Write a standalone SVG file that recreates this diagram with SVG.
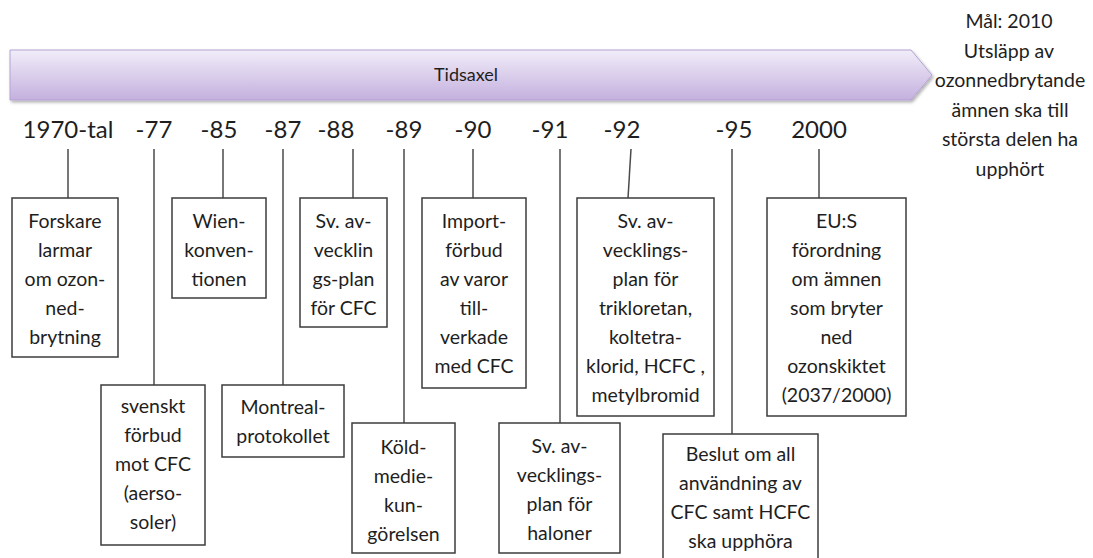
<svg xmlns="http://www.w3.org/2000/svg" width="1093" height="558" viewBox="0 0 1093 558">
<defs>
<linearGradient id="bar" x1="0" y1="0" x2="0" y2="1">
<stop offset="0" stop-color="#f1edf9"/>
<stop offset="1" stop-color="#c4b0de"/>
</linearGradient>
<filter id="sh" x="-5%" y="-30%" width="110%" height="170%">
<feDropShadow dx="1.5" dy="2" stdDeviation="1.5" flood-color="#000" flood-opacity="0.3"/>
</filter>
<style>
.t{font-family:Lato,"Open Sans","Liberation Sans",sans-serif;fill:#1e1e1e;text-anchor:middle}
.b{font-size:19.5px}
.y{font-size:24px}
.box{fill:#fff;stroke:#3c3c3c;stroke-width:1.5}
.c line{stroke:#4a4a4a;stroke-width:1.5}
</style>
</defs>
<rect width="1093" height="558" fill="#fff"/>

<g id="banner">
<path d="M10,50 H911 L932,75 L911,100 H10 Z" fill="url(#bar)" stroke="#b4a3d4" stroke-width="1" filter="url(#sh)"/>
<text class="t" x="466" y="81" font-size="18px">Tidsaxel</text>
</g>

<g id="years" class="t y">
<text x="68" y="138">1970-tal</text>
<text x="154" y="138">-77</text>
<text x="219" y="138">-85</text>
<text x="283" y="138">-87</text>
<text x="336" y="138">-88</text>
<text x="404" y="138">-89</text>
<text x="473" y="138">-90</text>
<text x="550" y="138">-91</text>
<text x="622" y="138">-92</text>
<text x="734" y="138">-95</text>
<text x="819" y="138">2000</text>
</g>

<g id="goal" class="t b">
<text x="1009" y="28">Mål: 2010</text>
<text x="1009" y="57.5">Utsläpp av</text>
<text x="1010" y="87">ozonnedbrytande</text>
<text x="1010" y="116.5">ämnen ska till</text>
<text x="1010" y="146">största delen ha</text>
<text x="1010" y="175.5">upphört</text>
</g>

<g id="connectors" class="c">
<line x1="68" y1="149" x2="68" y2="198"/>
<line x1="154" y1="149" x2="154" y2="385"/>
<line x1="223" y1="149" x2="223" y2="198"/>
<line x1="283" y1="149" x2="283" y2="385"/>
<line x1="353" y1="149" x2="353" y2="198"/>
<line x1="404" y1="149" x2="404" y2="423"/>
<line x1="473" y1="149" x2="473" y2="198"/>
<line x1="560" y1="149" x2="560" y2="423"/>
<line x1="631" y1="149" x2="628" y2="198"/>
<line x1="732" y1="149" x2="732" y2="434"/>
<line x1="819" y1="149" x2="819" y2="198"/>
</g>

<g id="n1970">
<rect class="box" x="12" y="198" width="106" height="159"/>
<text class="t b" x="65"><tspan x="65" y="228">Forskare</tspan><tspan x="65" y="257">larmar</tspan><tspan x="65" y="286">om ozon-</tspan><tspan x="65" y="315">ned-</tspan><tspan x="65" y="344">brytning</tspan></text>
</g>

<g id="n77">
<rect class="box" x="101" y="385" width="104" height="160"/>
<text class="t b"><tspan x="153" y="413">svenskt</tspan><tspan x="153" y="442">förbud</tspan><tspan x="153" y="471">mot CFC</tspan><tspan x="153" y="500">(aerso-</tspan><tspan x="153" y="529">soler)</tspan></text>
</g>

<g id="n85">
<rect class="box" x="172" y="198" width="94" height="100"/>
<text class="t b"><tspan x="219" y="228">Wien-</tspan><tspan x="219" y="257">konven-</tspan><tspan x="219" y="286">tionen</tspan></text>
</g>

<g id="n87">
<rect class="box" x="222" y="385" width="122" height="72"/>
<text class="t b"><tspan x="283" y="414">Montreal-</tspan><tspan x="283" y="443">protokollet</tspan></text>
</g>

<g id="n88">
<rect class="box" x="300" y="198" width="87" height="129"/>
<text class="t b"><tspan x="343.5" y="228">Sv. av-</tspan><tspan x="343.5" y="257">vecklin</tspan><tspan x="343.5" y="286">gs-plan</tspan><tspan x="343.5" y="315">för CFC</tspan></text>
</g>

<g id="n89">
<rect class="box" x="352" y="423" width="103" height="130"/>
<text class="t b"><tspan x="403.5" y="454">Köld-</tspan><tspan x="403.5" y="483">medie-</tspan><tspan x="403.5" y="512">kun-</tspan><tspan x="403.5" y="541">görelsen</tspan></text>
</g>

<g id="n90">
<rect class="box" x="422" y="198" width="104" height="190"/>
<text class="t b"><tspan x="474" y="228">Import-</tspan><tspan x="474" y="257">förbud</tspan><tspan x="474" y="286">av varor</tspan><tspan x="474" y="315">till-</tspan><tspan x="474" y="344">verkade</tspan><tspan x="474" y="373">med CFC</tspan></text>
</g>

<g id="n91">
<rect class="box" x="499" y="423" width="121" height="130"/>
<text class="t b"><tspan x="559.5" y="453">Sv. av-</tspan><tspan x="559.5" y="482">vecklings-</tspan><tspan x="559.5" y="511">plan för</tspan><tspan x="559.5" y="540">haloner</tspan></text>
</g>

<g id="n92">
<rect class="box" x="577" y="198" width="137" height="218"/>
<text class="t b"><tspan x="645.5" y="228">Sv. av-</tspan><tspan x="645.5" y="257">vecklings-</tspan><tspan x="645.5" y="286">plan för</tspan><tspan x="645.5" y="315">trikloretan,</tspan><tspan x="645.5" y="344">koltetra-</tspan><tspan x="645.5" y="373">klorid, HCFC ,</tspan><tspan x="645.5" y="402">metylbromid</tspan></text>
</g>

<g id="n95">
<rect class="box" x="663" y="434" width="155" height="130"/>
<text class="t b"><tspan x="740.5" y="461">Beslut om all</tspan><tspan x="740.5" y="490">användning av</tspan><tspan x="740.5" y="519">CFC samt HCFC</tspan><tspan x="740.5" y="548">ska upphöra</tspan></text>
</g>

<g id="n2000">
<rect class="box" x="767" y="198" width="139" height="218"/>
<text class="t b"><tspan x="836.5" y="228">EU:S</tspan><tspan x="836.5" y="257">förordning</tspan><tspan x="836.5" y="286">om ämnen</tspan><tspan x="836.5" y="315">som bryter</tspan><tspan x="836.5" y="344">ned</tspan><tspan x="836.5" y="373">ozonskiktet</tspan><tspan x="836.5" y="402">(2037/2000)</tspan></text>
</g>
</svg>
